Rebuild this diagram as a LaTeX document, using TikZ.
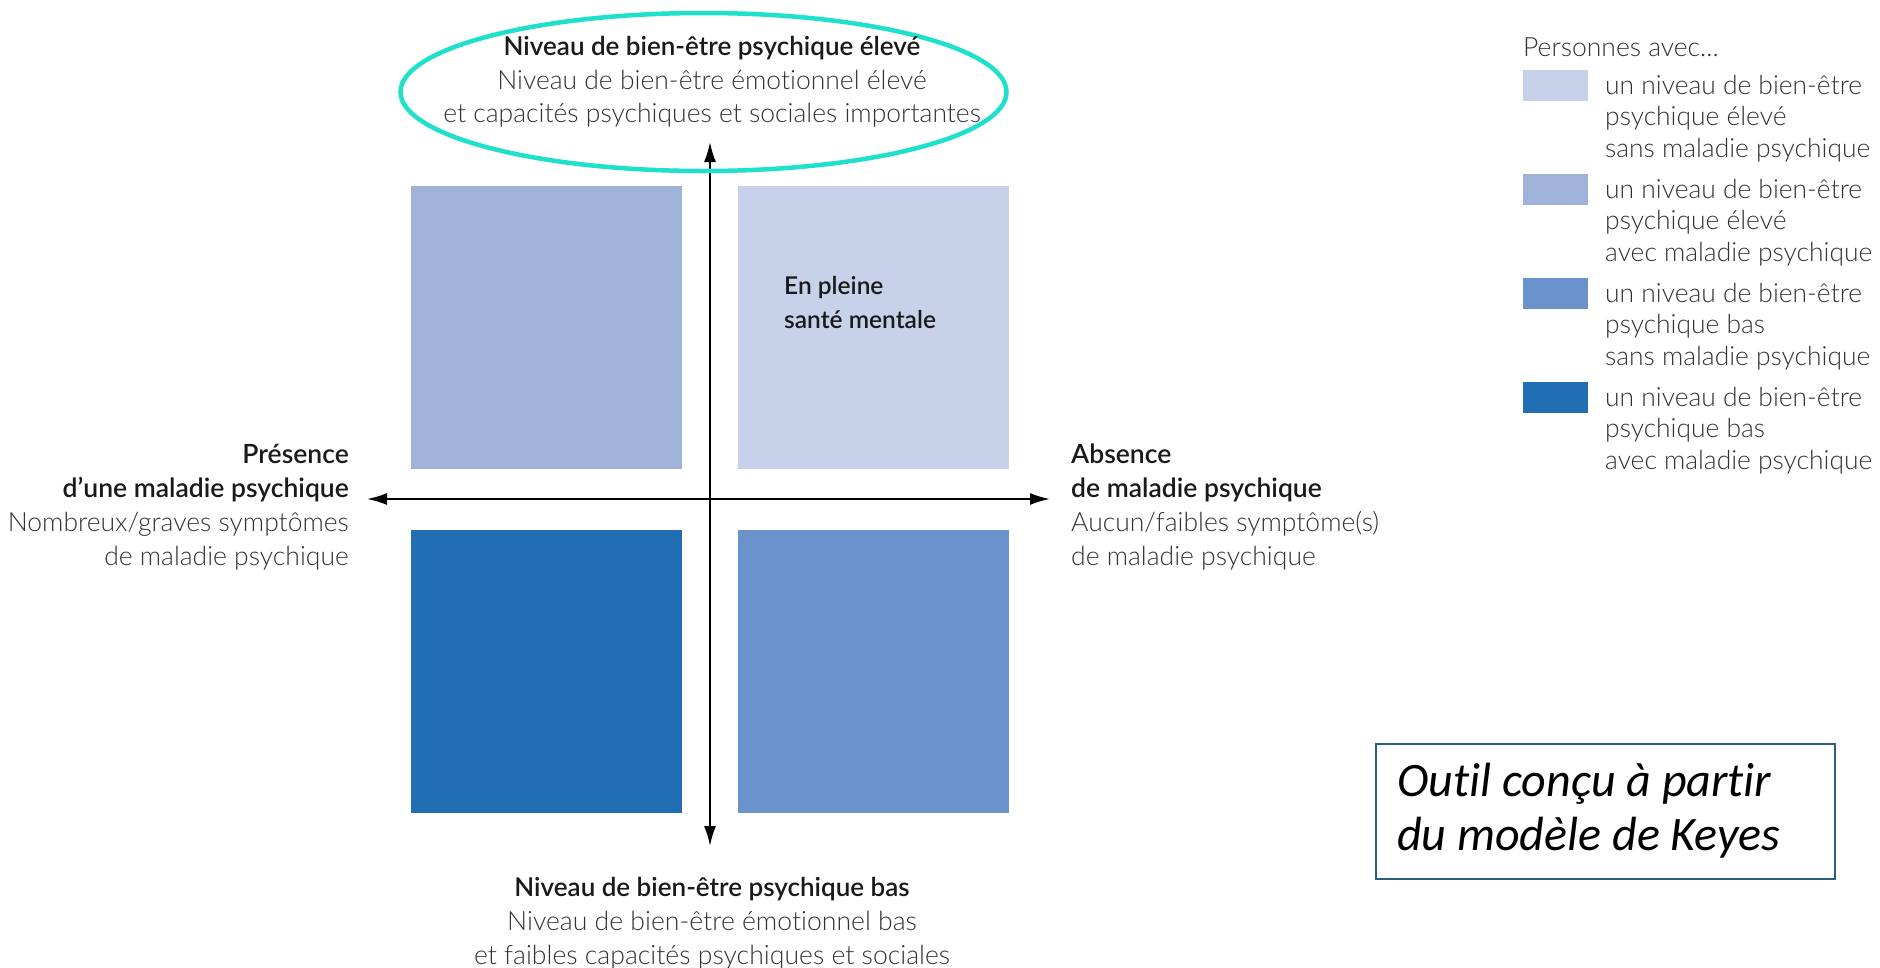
\documentclass[tikz,border=0pt]{standalone}
\usepackage{fontspec}
\setmainfont{Lato}[UprightFont=* Light, BoldFont=* Semibold, Ligatures=CommonOff]
\newfontfamily\boxfont{Carlito}[Ligatures=CommonOff]
\usetikzlibrary{arrows.meta,shapes.geometric}
\definecolor{cA}{HTML}{C7D2EA}
\definecolor{cB}{HTML}{9FB3D9}
\definecolor{cC}{HTML}{6A92CB}
\definecolor{cD}{HTML}{226EB5}
\definecolor{turq}{HTML}{1EE0CB}
\definecolor{boxcol}{HTML}{2A5F7F}
\definecolor{txt}{HTML}{333333}
\definecolor{txtb}{HTML}{1A1A1A}
\newcommand{\bfl}[2]{{\fontsize{#1}{10}\selectfont\color{txtb}\textbf{#2}}}
\tikzset{
  quad/.style={rectangle, inner sep=0pt, minimum width=271pt, minimum height=283pt},
  leg/.style={rectangle, inner sep=0pt, minimum width=65pt, minimum height=31pt},
  lbl/.style={inner sep=0pt, text=txt, font=\fontsize{26.5}{34}\selectfont},
  biglbl/.style={inner sep=0pt, text=txt, align=center, anchor=north},
  legtxt/.style={inner sep=0pt, text=txt, align=left, anchor=north west, font=\fontsize{26.4}{31.5}\selectfont},
  axis/.style={line width=2pt, black, {Latex[length=20pt,width=12pt]}-{Latex[length=20pt,width=12pt]}}
}
\begin{document}
\begin{tikzpicture}[x=1pt,y=-1pt]
\useasboundingbox[fill=white] (0,0) rectangle (1880,967);
% quadrants
\node[quad, fill=cB] (q2) at (546,327.5) {};
\node[quad, fill=cA] (q1) at (873.5,327.5) {};
\node[quad, fill=cD] (q3) at (546,671.5) {};
\node[quad, fill=cC] (q4) at (873.5,671.5) {};
\node[inner sep=0pt, text=txtb, align=left, anchor=north west, font=\fontsize{24.5}{34}\selectfont] (sante) at (784,276) {\textbf{En pleine}\\\textbf{santé mentale}};
% axes
\coordinate (L) at (367,499);
\coordinate (R) at (1050,499);
\coordinate (T) at (710,142);
\coordinate (B) at (710,846);
\draw[axis] (L) -- (R);
\draw[axis] (B) -- (T);
% highlight ellipse
\node[ellipse, draw=turq, line width=4.5pt, minimum width=606pt, minimum height=158pt] (ell) at (703.5,92) {};
% top label
\node[biglbl, font=\fontsize{26.5}{33.6}\selectfont] (top) at (712,36) {\bfl{26}{Niveau de bien-être psychique élevé}\\Niveau de bien-être émotionnel élevé\\et capacités psychiques et sociales importantes};
% bottom label
\node[biglbl, font=\fontsize{26.6}{34}\selectfont] (bot) at (712,877) {\bfl{26}{Niveau de bien-être psychique bas}\\Niveau de bien-être émotionnel bas\\et faibles capacités psychiques et sociales};
% left label
\node[lbl, align=right, anchor=north east] (left) at (349,444) {\bfl{26.5}{Présence}\\\bfl{26.5}{d’une maladie psychique}\\Nombreux/graves symptômes\\de maladie psychique};
% right label
\node[lbl, align=left, anchor=north west] (right) at (1071,444) {\bfl{26.5}{Absence}\\\bfl{26.5}{de maladie psychique}\\Aucun/faibles symptôme(s)\\de maladie psychique};
% legend
\node[lbl, anchor=west] (legtitle) at (1523,47) {Personnes avec...};
\node[leg, fill=cA, anchor=north west] (l1) at (1523,70) {};
\node[leg, fill=cB, anchor=north west] (l2) at (1523,174) {};
\node[leg, fill=cC, anchor=north west] (l3) at (1523,278) {};
\node[leg, fill=cD, anchor=north west] (l4) at (1523,382) {};
\node[legtxt] (t1) at (1605,75) {un niveau de bien-être\\psychique élevé\\sans maladie psychique};
\node[legtxt] (t2) at (1605,179) {un niveau de bien-être\\psychique élevé\\avec maladie psychique};
\node[legtxt] (t3) at (1605,283) {un niveau de bien-être\\psychique bas\\sans maladie psychique};
\node[legtxt] (t4) at (1605,387) {un niveau de bien-être\\psychique bas\\avec maladie psychique};
% source box
\node[draw=boxcol, line width=2pt, rectangle, minimum width=459pt, minimum height=135pt, inner sep=0pt] (src) at (1605.5,811) {};
\node[inner sep=0pt, anchor=west, align=left, font=\boxfont\itshape\fontsize{48}{54}\selectfont] (srctxt) at (1397,811) {Outil conçu à partir\\du modèle de Keyes};
\end{tikzpicture}
\end{document}
